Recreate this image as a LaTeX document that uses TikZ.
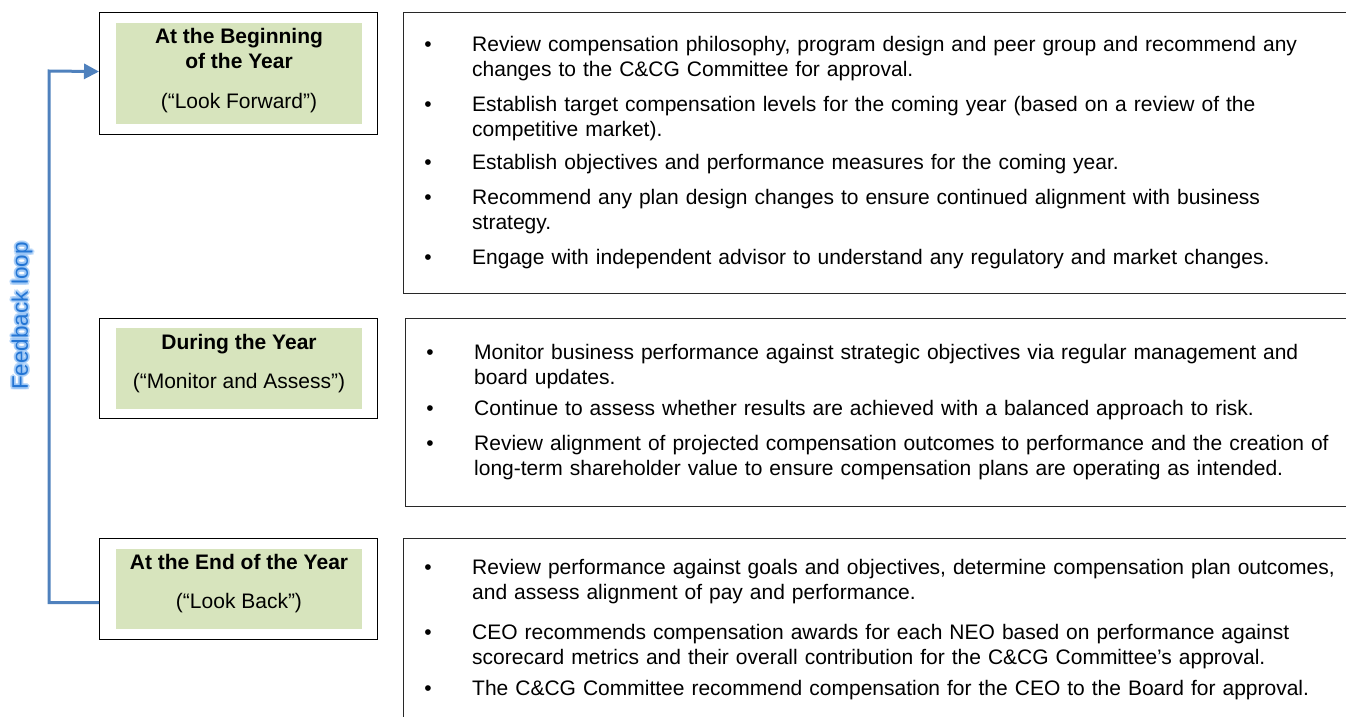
\documentclass[tikz,border=0pt]{standalone}
\usepackage{fontspec}
\setmainfont{Liberation Sans}
\usetikzlibrary{arrows.meta}
\definecolor{phasegreen}{RGB}{215,228,189}
\definecolor{loopblue}{RGB}{79,129,189}
\definecolor{fbtext}{RGB}{35,117,212}
\definecolor{fbglow}{RGB}{150,195,245}
\definecolor{rline}{RGB}{40,40,40}
\begin{document}
\begin{tikzpicture}[x=1pt,y=-1pt,
  outerbox/.style={draw=black, line width=1.1pt, anchor=north west, inner sep=0pt, minimum width=278pt},
  greenbox/.style={fill=phasegreen, anchor=north west, inner sep=0pt, minimum width=246pt},
  rbox/.style={draw=rline, line width=1.3pt, anchor=north west, inner sep=0pt, minimum width=1100pt},
  head/.style={font=\fontsize{21}{25}\selectfont\bfseries, anchor=base, inner sep=0pt},
  sub/.style={font=\fontsize{21}{25}\selectfont, anchor=base, inner sep=0pt},
  bul/.style={font=\fontsize{21}{25}\selectfont, anchor=base, inner sep=0pt},
  itemtext/.style={font=\fontsize{21}{25}\selectfont, anchor=base west, inner sep=0pt, text width=960pt, align=left},
  fbglowst/.style={font=\fontsize{22.5}{25}\selectfont, rotate=90, text=fbglow, opacity=0.6, inner sep=0pt},
  fbtextst/.style={font=\fontsize{22.5}{25}\selectfont, rotate=90, text=fbtext, inner sep=0pt},
  fb/.style={draw=loopblue, line width=3pt},
]
\useasboundingbox (0,0) rectangle (1346,717);

% left phase boxes
\node[outerbox, minimum height=122pt] (o1) at (99,12) {};
\node[greenbox, minimum height=101pt] (g1) at (116,23) {};
\node[head] (h1a) at (239,44) {At the Beginning};
\node[head] (h1b) at (239,68) {of the Year};
\node[sub] (s1) at (239,108) {(“Look Forward”)};

\node[outerbox, minimum height=100pt] (o2) at (99,318) {};
\node[greenbox, minimum height=81pt] (g2) at (116,328) {};
\node[head] (h2) at (239,349) {During the Year};
\node[sub] (s2) at (239,388) {(“Monitor and Assess”)};

\node[outerbox, minimum height=101pt] (o3) at (99,538) {};
\node[greenbox, minimum height=80pt] (g3) at (116,549) {};
\node[head] (h3) at (239,569) {At the End of the Year};
\node[sub] (s3) at (239,608) {(“Look Back”)};

% feedback loop
\coordinate (fbtop) at (49,71);
\draw[fb, -{Triangle[length=15pt,width=15pt]}] ([yshift=-13.5pt]o3.west) -| (fbtop) -- ([yshift=2pt]o1.west);
\foreach \dx/\dy [count=\k] in {-2/0, 2/0, 0/-2, 0/2, -1.4/-1.4, 1.4/1.4, -1.4/1.4, 1.4/-1.4}
  \node[fbglowst, name=glow\k] at (22+\dx,316+\dy) {Feedback loop};
\node[fbtextst] (fbl) at (22,316) {Feedback loop};

% right boxes
\node[rbox, minimum height=281pt] (ra) at (403,12) {};
\node[rbox, minimum height=188pt] (rb) at (405,318) {};
\node[rbox, minimum height=250pt] (rc) at (403,538) {};

% box A items
\node[bul] (ba1) at (428,52) {•};
\node[itemtext] (ta1) at (472,52) {Review compensation philosophy, program design and peer group and recommend any\\changes to the C\&CG Committee for approval.};
\node[bul] (ba2) at (428,111) {•};
\node[itemtext] (ta2) at (472,111) {Establish target compensation levels for the coming year (based on a review of the\\competitive market).};
\node[bul] (ba3) at (428,169) {•};
\node[itemtext] (ta3) at (472,169) {Establish objectives and performance measures for the coming year.};
\node[bul] (ba4) at (428,204) {•};
\node[itemtext] (ta4) at (472,204) {Recommend any plan design changes to ensure continued alignment with business\\strategy.};
\node[bul] (ba5) at (428,264) {•};
\node[itemtext] (ta5) at (472,264) {Engage with independent advisor to understand any regulatory and market changes.};

% box B items
\node[bul] (bb1) at (430,359) {•};
\node[itemtext] (tb1) at (474,359) {Monitor business performance against strategic objectives via regular management and\\board updates.};
\node[bul] (bb2) at (430,415) {•};
\node[itemtext] (tb2) at (474,415) {Continue to assess whether results are achieved with a balanced approach to risk.};
\node[bul] (bb3) at (430,450) {•};
\node[itemtext] (tb3) at (474,450) {Review alignment of projected compensation outcomes to performance and the creation of\\long-term shareholder value to ensure compensation plans are operating as intended.};

% box C items
\node[bul] (bc1) at (428,574) {•};
\node[itemtext] (tc1) at (472,574) {Review performance against goals and objectives, determine compensation plan outcomes,\\and assess alignment of pay and performance.};
\node[bul] (bc2) at (428,639) {•};
\node[itemtext] (tc2) at (472,639) {CEO recommends compensation awards for each NEO based on performance against\\scorecard metrics and their overall contribution for the C\&CG Committee’s approval.};
\node[bul] (bc3) at (428,695) {•};
\node[itemtext] (tc3) at (472,695) {The C\&CG Committee recommend compensation for the CEO to the Board for approval.};
\end{tikzpicture}
\end{document}
